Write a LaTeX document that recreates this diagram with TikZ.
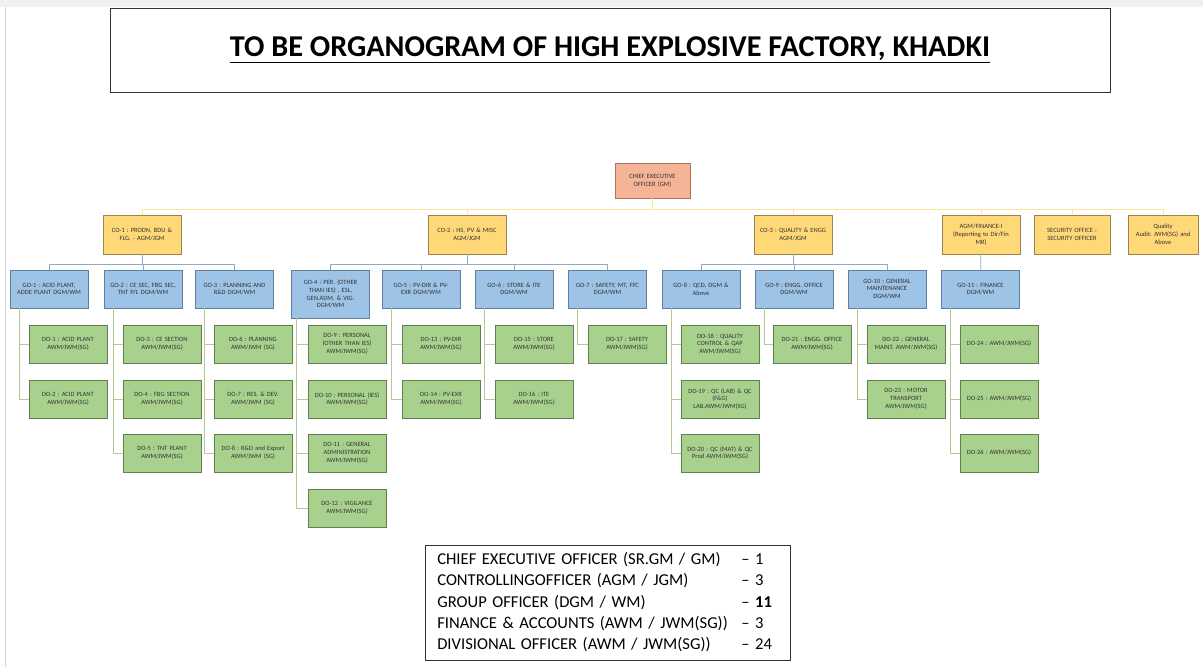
\documentclass[tikz,border=0pt]{standalone}
\usepackage{fontspec}
\setmainfont{Carlito}
\frenchspacing

\definecolor{ceofill}{HTML}{F5B496}
\definecolor{ceoline}{HTML}{A8765C}
\definecolor{cofill}{HTML}{FFD878}
\definecolor{coline}{HTML}{9C8450}
\definecolor{gofill}{HTML}{9DC3E6}
\definecolor{goline}{HTML}{5F7FA0}
\definecolor{dofill}{HTML}{A9D18E}
\definecolor{doline}{HTML}{62804C}
\definecolor{cobus}{HTML}{FFE699}
\definecolor{gobus}{HTML}{8EA9D0}
\definecolor{dobus}{HTML}{B6C98E}

\begin{document}
\begin{tikzpicture}[x=0.025cm,y=-0.025cm,
    org node/.style={rectangle,draw,align=center,text width=1.87cm,inner sep=1pt,
      minimum height=0.95cm,text=black!80,font=\fontsize{4.6}{5.5}\selectfont},
    ceo node/.style={org node,fill=ceofill,draw=ceoline,text width=1.8cm,minimum height=0.875cm},
    co node/.style={org node,fill=cofill,draw=coline,minimum height=0.975cm},
    go node/.style={org node,fill=gofill,draw=goline},
    do node/.style={org node,fill=dofill,draw=doline},
    co line/.style={draw=cobus,line width=0.7pt},
    go line/.style={draw=gobus,line width=0.5pt},
    do line/.style={draw=dobus,line width=0.5pt}]

  \useasboundingbox (0,0) rectangle (1203,667);
  \fill[gray!12] (0,0) rectangle (1203,7);
  \draw[gray!35] (5,7) -- (5,667);

  % heading
  \node[draw=black!80,minimum width=25cm,minimum height=2.1cm,
        font=\fontsize{21.5}{24}\selectfont\bfseries] (title) at (610,50)
    {\underline{TO BE ORGANOGRAM OF HIGH EXPLOSIVE FACTORY, KHADKI}};

  % top and controlling officers
  \node[ceo node] (ceo) at (652.5,180.5) {CHIEF EXECUTIVE\\OFFICER (GM)};
  \node[co node] (co1) at (142,234.5) {CO-1 : PRODN, BDU \&\\FLG. - AGM/JGM};
  \node[co node] (co2) at (467,234.5) {CO-2 : HS, PV \& MISC\\AGM/JGM};
  \node[co node] (co3) at (793,234.5) {CO-3 : QUALITY \& ENGG\\AGM/JGM};
  \node[co node] (fin) at (981,234.5) {AGM/FINANCE-I\\(Reporting to Dir/Fin\\MR)};
  \node[co node,text width=1.82cm] (sec) at (1072,234.5) {SECURITY OFFICE :\\SECURITY OFFICER};
  \node[co node,text width=1.68cm] (qa) at (1163,234.5) {Quality\\Audit: JWM(SG) and\\Above};

  \coordinate (bus) at (ceo.south |- 0,209);
  \draw[co line] (ceo) -- (bus);
  \draw[co line] (bus) -| (co1);
  \draw[co line] (bus) -| (co2);
  \draw[co line] (bus) -| (co3);
  \draw[co line] (bus) -| (fin);
  \draw[co line] (bus) -| (sec);
  \draw[co line] (bus) -| (qa);

  % group officers
  \node[go node] (go1) at (49,289) {GO-1 : ACID PLANT,\\ADDE PLANT DGM/WM};
  \node[go node] (go2) at (143,289) {GO-2 : CE SEC, FBG SEC,\\TNT P/L DGM/WM};
  \node[go node] (go3) at (234.5,289) {GO-3 : PLANNING AND\\R\&D DGM/WM};
  \node[go node,minimum height=1.2cm] (go4) at (330.5,294) {GO-4 : PER. (OTHER\\THAN IES) , ESL,\\GEN.ADM. \& VIG.\\DGM/WM};
  \node[go node] (go5) at (421,289) {GO-5 : PV-DIR \& PV-\\EXR DGM/WM};
  \node[go node] (go6) at (514,289) {GO-6 : STORE \& ITE\\DGM/WM};
  \node[go node] (go7) at (607.5,289) {GO-7 : SAFETY, MT, FFC\\DGM/WM};
  \node[go node] (go8) at (701,289) {GO-8 : QCD, DGM \&\\Above};
  \node[go node] (go9) at (794,289) {GO-9 : ENGG. OFFICE\\DGM/WM};
  \node[go node] (go10) at (887,289) {GO-10 : GENERAL\\MAINTENANCE\\DGM/WM};
  \node[go node] (go11) at (980.5,289) {GO-11 : FINANCE\\DGM/WM};

  \draw[go line] (co1.south) -- ++(0,10) -| (go1);
  \draw[go line] (co1.south) -- ++(0,10) -| (go2);
  \draw[go line] (co1.south) -- ++(0,10) -| (go3);
  \draw[go line] (co2.south) -- ++(0,10) -| (go4);
  \draw[go line] (co2.south) -- ++(0,10) -| (go5);
  \draw[go line] (co2.south) -- ++(0,10) -| (go6);
  \draw[go line] (co2.south) -- ++(0,10) -| (go7);
  \draw[go line] (co3.south) -- ++(0,10) -| (go8);
  \draw[go line] (co3.south) -- ++(0,10) -| (go9);
  \draw[go line] (co3.south) -- ++(0,10) -| (go10);
  \draw[go line] (fin) -- (go11);

  % divisional officers
  \node[do node] (do1) at (68,344) {DO-1 : ACID PLANT\\AWM/JWM(SG)};
  \node[do node] (do2) at (68,399) {DO-2 : ACID PLANT\\AWM/JWM(SG)};
  \node[do node] (do3) at (162,344) {DO-3 : CE SECTION\\AWM/JWM(SG)};
  \node[do node] (do4) at (162,399) {DO-4 : FBG SECTION\\AWM/JWM(SG)};
  \node[do node] (do5) at (162,453) {DO-5 : TNT PLANT\\AWM/JWM(SG)};
  \node[do node] (do6) at (253,344) {DO-6 : PLANNING\\AWM/JWM (SG)};
  \node[do node] (do7) at (253,399) {DO-7 : RES. \& DEV.\\AWM/JWM (SG)};
  \node[do node] (do8) at (253,453) {DO-8 : R\&D and Export\\AWM/JWM (SG)};
  \node[do node] (do9) at (347,344) {DO-9 : PERSONAL\\(OTHER THAN IES)\\AWM/JWM(SG)};
  \node[do node] (do10) at (347,399) {DO-10 : PERSONAL (IES)\\AWM/JWM(SG)};
  \node[do node] (do11) at (347,453) {DO-11 : GENERAL\\ADMINISTRATION\\AWM/JWM(SG)};
  \node[do node] (do12) at (347,508) {DO-12 : VIGILANCE\\AWM/JWM(SG)};
  \node[do node] (do13) at (441,344) {DO-13 : PV-DIR\\AWM/JWM(SG)};
  \node[do node] (do14) at (441,399) {DO-14 : PV-EXR\\AWM/JWM(SG)};
  \node[do node] (do15) at (534,344) {DO-15 : STORE\\AWM/JWM(SG)};
  \node[do node] (do16) at (534,399) {DO-16 : ITE\\AWM/JWM(SG)};
  \node[do node] (do17) at (627,344) {DO-17 : SAFETY\\AWM/JWM(SG)};
  \node[do node] (do18) at (720,344) {DO-18 : QUALITY\\CONTROL \& QAP\\AWM/JWM(SG)};
  \node[do node] (do19) at (720,399) {DO-19 : QC (LAB) \& QC\\(F\&G)\\LAB.AWM/JWM(SG)};
  \node[do node] (do20) at (720,453) {DO-20 : QC (MAT) \& QC\\Prod AWM/JWM(SG)};
  \node[do node] (do21) at (812,344) {DO-21 : ENGG. OFFICE\\AWM/JWM(SG)};
  \node[do node] (do22) at (906,344) {DO-22 : GENERAL\\MAINT. AWM/JWM(SG)};
  \node[do node] (do23) at (906,399) {DO-23 : MOTOR\\TRANSPORT\\AWM/JWM(SG)};
  \node[do node] (do24) at (999,344) {DO-24 : AWM/JWM(SG)};
  \node[do node] (do25) at (999,399) {DO-25 : AWM/JWM(SG)};
  \node[do node] (do26) at (999,453) {DO-26 : AWM/JWM(SG)};

  \draw[do line] (go1.south west) ++(9,0) |- (do1);
  \draw[do line] (go1.south west) ++(9,0) |- (do2);
  \draw[do line] (go2.south west) ++(9,0) |- (do3);
  \draw[do line] (go2.south west) ++(9,0) |- (do4);
  \draw[do line] (go2.south west) ++(9,0) |- (do5);
  \draw[do line] (go3.south west) ++(9,0) |- (do6);
  \draw[do line] (go3.south west) ++(9,0) |- (do7);
  \draw[do line] (go3.south west) ++(9,0) |- (do8);
  \draw[do line] (go4.south west) ++(5,0) |- (do9);
  \draw[do line] (go4.south west) ++(5,0) |- (do10);
  \draw[do line] (go4.south west) ++(5,0) |- (do11);
  \draw[do line] (go4.south west) ++(5,0) |- (do12);
  \draw[do line] (go5.south west) ++(9,0) |- (do13);
  \draw[do line] (go5.south west) ++(9,0) |- (do14);
  \draw[do line] (go6.south west) ++(9,0) |- (do15);
  \draw[do line] (go6.south west) ++(9,0) |- (do16);
  \draw[do line] (go7.south west) ++(9,0) |- (do17);
  \draw[do line] (go8.south west) ++(9,0) |- (do18);
  \draw[do line] (go8.south west) ++(9,0) |- (do19);
  \draw[do line] (go8.south west) ++(9,0) |- (do20);
  \draw[do line] (go9.south west) ++(9,0) |- (do21);
  \draw[do line] (go10.south west) ++(9,0) |- (do22);
  \draw[do line] (go10.south west) ++(9,0) |- (do23);
  \draw[do line] (go11.south west) ++(9,0) |- (do24);
  \draw[do line] (go11.south west) ++(9,0) |- (do25);
  \draw[do line] (go11.south west) ++(9,0) |- (do26);

  % strength summary
  \node[draw=black!80,anchor=north west,inner xsep=0.3cm,inner ysep=0pt,
        text width=8.525cm,minimum height=2.875cm,
        font=\fontsize{11.8}{15.2}\selectfont] (summary) at (425,545)
    {\begin{tabular}{@{}p{7.6cm}@{}l@{}}
      CHIEF EXECUTIVE OFFICER (SR.GM / GM) & -- 1\\
      CONTROLLINGOFFICER (AGM / JGM) & -- 3\\
      GROUP OFFICER (DGM / WM) & -- \textbf{11}\\
      FINANCE \& ACCOUNTS (AWM / JWM(SG)) & -- 3\\
      DIVISIONAL OFFICER (AWM / JWM(SG)) & -- 24
    \end{tabular}};
\end{tikzpicture}
\end{document}
